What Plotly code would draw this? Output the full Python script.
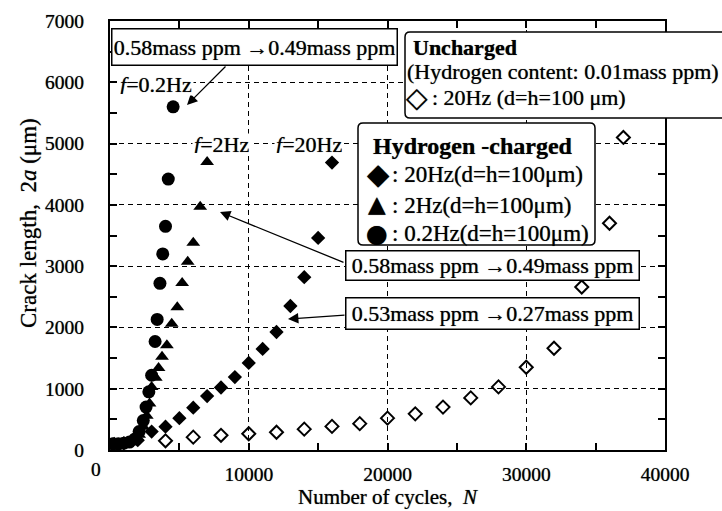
import plotly.graph_objects as go

# ---- data: crack length 2a (um) versus number of cycles N ----
# Uncharged specimen, 20 Hz
unch_n = [4000, 6000, 8000, 10000, 12000, 14000, 16000, 18000, 20000, 22000,
          24000, 26000, 28000, 30000, 32000, 34000, 36000, 37000]
unch_2a = [150, 210, 240, 265, 290, 340, 385, 430, 520, 590,
           700, 850, 1030, 1350, 1660, 2660, 3700, 5100]

# Hydrogen-charged, 20 Hz
h20_n = [300, 1000, 2000, 3000, 4000, 5000, 6000, 7000, 8000, 9000,
         10000, 11000, 12000, 13000, 14000, 15000, 16000]
h20_2a = [100, 110, 160, 300, 380, 520, 690, 880, 1020, 1190,
          1420, 1650, 1925, 2350, 2820, 3460, 4690]

# Hydrogen-charged, 2 Hz
h2_n = [300, 800, 1300, 1700, 2100, 2400, 2650, 2850, 3000, 3300,
        3500, 3750, 4100, 4450, 4850, 5200, 5600, 6000, 6500, 7000]
h2_2a = [100, 105, 120, 160, 250, 380, 560, 760, 1030, 1180,
         1340, 1520, 1710, 2060, 2330, 2725, 3070, 3380, 3970, 4700]

# Hydrogen-charged, 0.2 Hz
h02_n = [200, 600, 1000, 1400, 1800, 2100, 2400, 2600, 2800, 3000,
         3250, 3400, 3600, 3800, 4000, 4200, 4550]
h02_2a = [100, 100, 110, 130, 180, 300, 480, 700, 950, 1220,
          1770, 2130, 2720, 3200, 3650, 4420, 5600]

x_ticks = [10000, 20000, 30000, 40000]
y_ticks = [0, 1000, 2000, 3000, 4000, 5000, 6000, 7000]

SERIF = "Liberation Serif, Times New Roman, serif"
SYM = "DejaVu Sans, sans-serif"
INK = "#000000"
SHADOW = "0px 0px 0.8px rgba(0,0,0,0.7)"

W, H = 722, 511
ML, MR, MT, MB = 110, 57, 21, 61
PW, PH = W - ML - MR, H - MT - MB


def px(x):
    return (x - ML) / PW


def py(y):
    return (H - MB - y) / PH


fig = go.Figure()

fig.add_trace(go.Scatter(x=unch_n, y=unch_2a, mode="markers", name="Uncharged 20Hz",
                         marker=dict(symbol="diamond-open", size=10, color=INK,
                                     line=dict(width=2, color=INK))))
fig.add_trace(go.Scatter(x=h20_n, y=h20_2a, mode="markers", name="20Hz",
                         marker=dict(symbol="diamond", size=11, color=INK)))
fig.add_trace(go.Scatter(x=h2_n, y=h2_2a, mode="markers", name="2Hz",
                         marker=dict(symbol="triangle-up", size=12, color=INK)))
fig.add_trace(go.Scatter(x=h02_n, y=h02_2a, mode="markers", name="0.2Hz",
                         marker=dict(symbol="circle", size=13, color=INK)))

axis_common = dict(
    showline=True, linewidth=2, linecolor=INK, mirror="ticks",
    ticks="inside", ticklen=7, tickwidth=1.5, tickcolor=INK,
    showgrid=True, gridcolor="#000000", gridwidth=1.3, griddash="5px,4px",
    zeroline=False,
    tickfont=dict(family=SERIF, size=19.5, color=INK, shadow=SHADOW),
)

fig.update_xaxes(range=[0, 40000], tickvals=x_ticks,
                 ticktext=[str(v) for v in x_ticks], ticklabelstandoff=6,
                 minor=dict(dtick=5000, ticks="inside", ticklen=7, tickwidth=1.5,
                            tickcolor=INK, showgrid=False),
                 **axis_common)
fig.update_yaxes(range=[0, 7000], tickvals=y_ticks,
                 ticktext=[str(v) for v in y_ticks], ticklabelstandoff=20,
                 minor=dict(dtick=500, ticks="inside", ticklen=7, tickwidth=1.5,
                            tickcolor=INK, showgrid=False),
                 **axis_common)


def rounded_box(x0, y0, x1, y1, r=5):
    """Rounded rectangle path in paper coordinates from pixel corners."""
    rx, ry = r / PW, r / PH
    X0, X1 = px(x0), px(x1)
    Y0, Y1 = py(y0), py(y1)  # Y0 is top
    return (f"M{X0+rx},{Y0} L{X1-rx},{Y0} Q{X1},{Y0} {X1},{Y0-ry} "
            f"L{X1},{Y1+ry} Q{X1},{Y1} {X1-rx},{Y1} "
            f"L{X0+rx},{Y1} Q{X0},{Y1} {X0},{Y1+ry} "
            f"L{X0},{Y0-ry} Q{X0},{Y0} {X0+rx},{Y0} Z")


shapes = [
    dict(type="path", xref="paper", yref="paper", layer="above",
         path=rounded_box(405, 32, 745, 118), fillcolor="white",
         line=dict(color=INK, width=1.5)),
    dict(type="path", xref="paper", yref="paper", layer="above",
         path=rounded_box(358, 123, 595, 245), fillcolor="white",
         line=dict(color=INK, width=1.5)),
]
fig.update_layout(shapes=shapes)

anns = []


def text(x, y, s, size=22, xanchor="center", family=SERIF, **kw):
    anns.append(dict(x=px(x), y=py(y), xref="paper", yref="paper", text=s,
                     showarrow=False, xanchor=xanchor, yanchor="middle",
                     font=dict(family=family, size=size, color=INK, shadow=SHADOW),
                     **kw))


def boxed(xc, yc, s, w, h):
    anns.append(dict(x=px(xc), y=py(yc), xref="paper", yref="paper", text=s,
                     showarrow=False, xanchor="center", yanchor="middle",
                     width=w, height=h, bgcolor="white", bordercolor=INK,
                     borderwidth=1.5, borderpad=1,
                     font=dict(family=SERIF, size=22, color=INK, shadow=SHADOW)))


def arrow(hx, hy, tx, ty):
    anns.append(dict(x=px(hx), y=py(hy), xref="paper", yref="paper",
                     ax=tx - hx, ay=ty - hy, axref="pixel", ayref="pixel",
                     text="", showarrow=True, arrowhead=2, arrowsize=1.6,
                     arrowwidth=1.3, arrowcolor=INK, standoff=0, startstandoff=0))


# Hydrogen content annotations with pointers
boxed(254.5, 46.5, "0.58mass ppm \u21920.49mass ppm", 282, 33)
arrow(187, 105, 227, 65)
boxed(492.5, 265, "0.58mass ppm \u21920.49mass ppm", 290, 26)
arrow(220, 212, 345, 263)
boxed(493, 313, "0.53mass ppm \u21920.27mass ppm", 290, 28)
arrow(288, 319, 346, 315)

# Loading frequency labels
text(156, 84, "<i>f</i>=0.2Hz", bgcolor="white", height=20)
text(221, 144, "<i>f</i>=2Hz", bgcolor="white", height=18)
text(308.5, 144, "<i>f</i>=20Hz", bgcolor="white", height=18)

# Uncharged key
text(411, 48, "<b>Uncharged</b>", xanchor="left")
text(405, 71, "(Hydrogen content: 0.01mass ppm)", xanchor="left")
text(417, 97, "\u25c7", size=28, family=SYM)
text(430, 97, ": 20Hz (d=h=100 \u03bcm)", xanchor="left")

# Hydrogen-charged key
text(371, 146, "<b>Hydrogen -charged</b>", xanchor="left", size=24)
text(378, 174, "\u25c6", size=29, family=SYM)
text(377, 204, "\u25b2", size=23, family=SYM)
text(377, 233, "\u25cf", size=25, family=SYM)
text(390, 174, ": 20Hz(d=h=100\u03bcm)", xanchor="left", size=23)
text(390, 205, ": 2Hz(d=h=100\u03bcm)", xanchor="left", size=23)
text(390, 233, ": 0.2Hz(d=h=100\u03bcm)", xanchor="left", size=23)

# Axis titles and the x origin label
text(96, 469, "0", size=19.5)
text(388, 497, "Number of cycles,  <i>N</i>", size=21)
anns.append(dict(x=px(28), y=py(223), xref="paper", yref="paper",
                 text="Crack length,  2<i>a</i> (\u03bcm)", textangle=-90,
                 showarrow=False, xanchor="center", yanchor="middle",
                 font=dict(family=SERIF, size=23, color=INK, shadow=SHADOW)))

fig.update_layout(
    annotations=anns,
    width=W, height=H,
    margin=dict(l=ML, r=MR, t=MT, b=MB),
    paper_bgcolor="white", plot_bgcolor="white",
    showlegend=False,
)

fig.write_html("out.html")
